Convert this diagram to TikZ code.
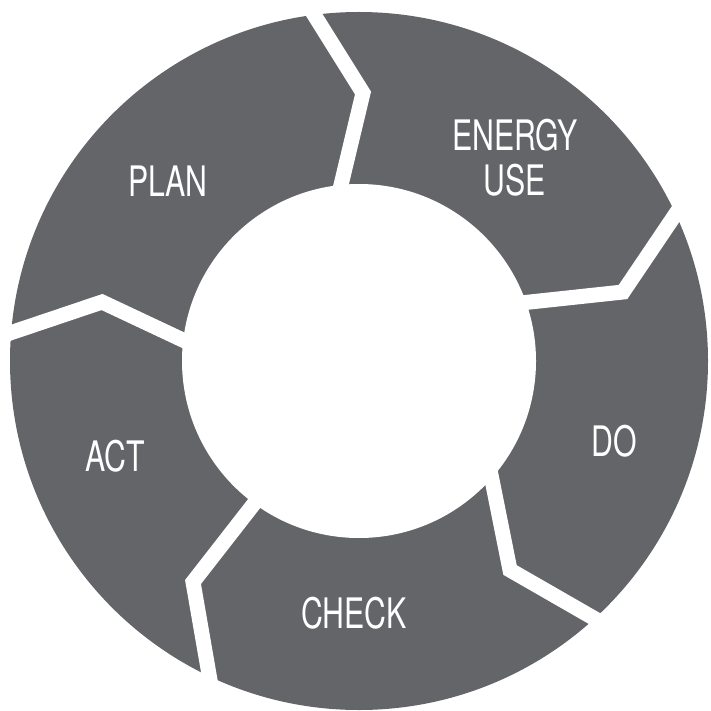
\documentclass[tikz,border=0pt]{standalone}
\usepackage{fontspec}
\setmainfont{TeX Gyre Heros}[FakeStretch=0.72]
\usetikzlibrary{calc}
\definecolor{ringgray}{RGB}{100,101,105}
\begin{document}
\begin{tikzpicture}[x=1pt,y=-1pt,
  gap/.style={draw=white,line width=15pt,line join=miter,line cap=butt},
  stage/.style={text=white,font=\fontsize{42}{45}\selectfont,align=center,inner sep=0pt}]
\useasboundingbox (0,0) rectangle (710,711);
\coordinate (c) at (359,361);
% the ring
\fill[ringgray] (c) circle[radius=349];
\fill[white] (c) circle[radius=177];
% chevron-shaped gaps between the stages: outer end, bend, inner end
\coordinate (o1) at (313,13);  \coordinate (b1) at (363,93);  \coordinate (i1) at (341,185);
\coordinate (o2) at (677,212); \coordinate (b2) at (623,292); \coordinate (i2) at (530,302);
\coordinate (o3) at (597,620); \coordinate (b3) at (510,570); \coordinate (i3) at (492,480);
\coordinate (o4) at (210,680); \coordinate (b4) at (193,582); \coordinate (i4) at (253,505);
\coordinate (o5) at (13,332);  \coordinate (b5) at (102,302); \coordinate (i5) at (187,342);
\foreach \k in {1,...,5}
  \draw[gap] ($(b\k)!1.2!(o\k)$) -- (b\k) -- ($(b\k)!1.2!(i\k)$);
% stage labels
\node[stage] (plan)   at (168,181) {PLAN};
\node[stage] (energy) at (515,158) {ENERGY\\USE};
\node[stage] (do)     at (614,441) {DO};
\node[stage] (check)  at (354,613) {CHECK};
\node[stage] (act)    at (115,456) {ACT};
\end{tikzpicture}
\end{document}
